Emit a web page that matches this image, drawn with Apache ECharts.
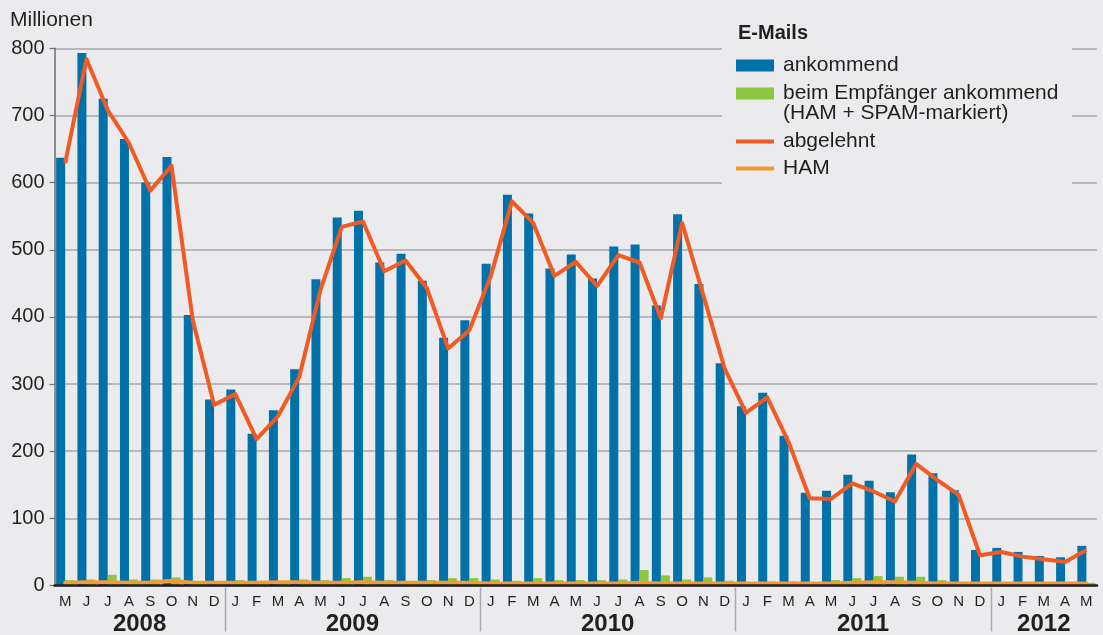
<!DOCTYPE html>
<html>
<head>
<meta charset="utf-8">
<title>E-Mails</title>
<script src="https://cdn.jsdelivr.net/npm/echarts@6/dist/echarts.min.js"></script>
<style>
  html, body { margin: 0; padding: 0; background: #ebebed; }
  #chart { width: 1103px; height: 635px; }
</style>
</head>
<body>
<div id="chart"></div>
<script>
// Monate Mai 2008 bis Mai 2012
const months = [
  'M', 'J', 'J', 'A', 'S', 'O', 'N', 'D',
  'J', 'F', 'M', 'A', 'M', 'J', 'J', 'A', 'S', 'O', 'N', 'D',
  'J', 'F', 'M', 'A', 'M', 'J', 'J', 'A', 'S', 'O', 'N', 'D',
  'J', 'F', 'M', 'A', 'M', 'J', 'J', 'A', 'S', 'O', 'N', 'D',
  'J', 'F', 'M', 'A', 'M'
];
// Jahresbeschriftung: Mitte des Jahresbereichs (in Monaten) -> Jahr
const yearCenters = [4, 14, 26, 38, 46.5];
const years = ['2008', '2009', '2010', '2011', '2012'];
const yearStarts = [8, 20, 32, 44];   // Trennstriche zwischen den Jahren

const ankommend = [
  637, 793, 725, 665, 600, 638, 403, 277,
  292, 226, 261, 322, 456, 548, 558, 481, 494, 454, 369, 395,
  479, 582, 554, 472, 493, 457, 505, 508, 417, 553, 449, 331,
  267, 287, 223, 138, 141, 165, 156, 139, 195, 167, 142, 53,
  56, 50, 44, 42, 59
];
const beimEmpfaenger = [
  8, 9, 16, 9, 9, 12, 3, 3,
  8, 4, 5, 9, 8, 11, 13, 8, 7, 8, 11, 11,
  9, 7, 11, 8, 8, 8, 9, 23, 15, 9, 12, 7,
  3, 6, 6, 3, 8, 11, 14, 13, 13, 8, 3, 3,
  3, 3, 3, 3, 4
];
const abgelehnt = [
  629, 784, 708, 659, 588, 625, 395, 269,
  285, 218, 252, 310, 440, 534, 542, 468, 484, 443, 353, 380,
  460, 572, 540, 461, 482, 446, 492, 481, 398, 540, 432, 323,
  257, 280, 214, 130, 129, 152, 140, 125, 181, 157, 135, 45,
  50, 43, 39, 35, 53
];
const ham = [
  4, 5, 5, 4, 4, 7, 4, 4,
  4, 4, 5, 5, 4, 4, 5, 4, 4, 4, 4, 4,
  3, 3, 3, 3, 3, 3, 3, 4, 3, 3, 3, 3,
  3, 3, 3, 3, 3, 4, 5, 5, 4, 3, 3, 3,
  3, 3, 3, 3, 3
];

const FONT = '"Liberation Sans", Arial, sans-serif';
const TEXT = '#231f20';
const BG = '#ebebed';
const SEP = '#a7a9ac';

const legendText = { fontFamily: FONT, fontSize: 21, color: TEXT, lineHeight: 23, padding: [0, 0, 0, 4] };

const option = {
  backgroundColor: BG,
  animation: false,
  textStyle: { fontFamily: FONT, color: TEXT },
  title: [
    { text: 'Millionen', left: 5, top: 5,
      textStyle: { fontFamily: FONT, fontSize: 21, fontWeight: 'normal', color: TEXT } },
    { text: 'E-Mails', left: 733, top: 18, z: 6,
      textStyle: { fontFamily: FONT, fontSize: 20, fontWeight: 'bold', color: TEXT } }
  ],
  graphic: [
    { type: 'rect', left: 722, top: 0, z: 3,
      shape: { width: 350, height: 192 }, style: { fill: BG } },
    { type: 'text', left: 783, top: 103, z: 6,
      style: { text: '(HAM + SPAM-markiert)', font: '21px ' + FONT, fill: TEXT } }
  ],
  legend: [
    { data: ['ankommend', 'beim Empfänger ankommend'],
      orient: 'vertical', left: 736, top: 54, padding: 0, z: 6,
      itemWidth: 38, itemHeight: 12, itemGap: 5, icon: 'rect',
      selectedMode: false, textStyle: legendText },
    { data: ['abgelehnt', 'HAM'],
      orient: 'vertical', left: 736, top: 130, padding: 0, z: 6,
      itemWidth: 38, itemHeight: 4, itemGap: 4, icon: 'rect',
      selectedMode: false, textStyle: legendText }
  ],
  grid: { left: 54.5, right: 6, top: 48.3, bottom: 49.5, outerBoundsMode: 'none', containLabel: false },
  xAxis: [
    {
      type: 'category',
      data: months,
      boundaryGap: true,
      axisLine: { lineStyle: { color: TEXT, width: 2.5 } },
      axisTick: { show: false },
      axisLabel: { interval: 0, fontFamily: FONT, fontSize: 15, color: TEXT, margin: 9 },
      splitLine: { show: false },
      z: 4
    },
    {
      type: 'value',
      position: 'bottom',
      min: 0, max: 49, interval: 0.5,
      axisLine: { show: false },
      axisTick: { show: false },
      splitLine: { show: false },
      axisLabel: {
        margin: 27, fontFamily: FONT, fontSize: 24, fontWeight: 'bold', color: TEXT,
        formatter: function (v) {
          const k = yearCenters.indexOf(v);
          return k >= 0 ? years[k] : '';
        }
      }
    }
  ],
  yAxis: {
    type: 'value',
    min: 0, max: 800, interval: 100,
    axisLine: { show: true, lineStyle: { color: '#6d6e71', width: 1.5 } },
    axisTick: { show: true, length: 5, lineStyle: { color: '#6d6e71', width: 1.2 } },
    axisLabel: { fontFamily: FONT, fontSize: 20, color: TEXT, margin: 10 },
    splitLine: { lineStyle: { color: SEP, width: 1.5 } }
  },
  series: [
    { name: 'ankommend', type: 'bar', data: ankommend, barWidth: 9, barGap: 0,
      itemStyle: { color: '#0071a9' }, z: 2 },
    { name: 'beim Empfänger ankommend', type: 'bar', data: beimEmpfaenger, barWidth: 9, barGap: 0,
      itemStyle: { color: '#8cc63f' }, z: 2 },
    { name: 'abgelehnt', type: 'line', data: abgelehnt, showSymbol: false, symbol: 'none',
      lineStyle: { color: '#f15a22', width: 4, join: 'round' }, itemStyle: { color: '#f15a22' }, z: 3 },
    { name: 'HAM', type: 'line', data: ham, showSymbol: false, symbol: 'none',
      lineStyle: { color: '#f39a36', width: 4, cap: 'round' }, itemStyle: { color: '#f39a36' }, z: 3 }
  ]
};

const chart = echarts.init(document.getElementById('chart'));
chart.setOption(option);

// Trennstriche zwischen den Jahren unter der x-Achse, Position über die Achsenskala
function drawSeparators() {
  const y0 = chart.convertToPixel({ yAxisIndex: 0 }, 0);
  const lines = yearStarts.map(function (m) {
    const x = Math.round(chart.convertToPixel({ xAxisIndex: 1 }, m)) + 0.5;
    return { type: 'line', z: 4, silent: true,
      shape: { x1: x, y1: y0 + 2, x2: x, y2: y0 + 46 },
      style: { stroke: SEP, lineWidth: 1.5 } };
  });
  chart.setOption({ graphic: option.graphic.concat(lines) });
}
drawSeparators();
window.addEventListener('resize', function () { chart.resize(); drawSeparators(); });
</script>
</body>
</html>
